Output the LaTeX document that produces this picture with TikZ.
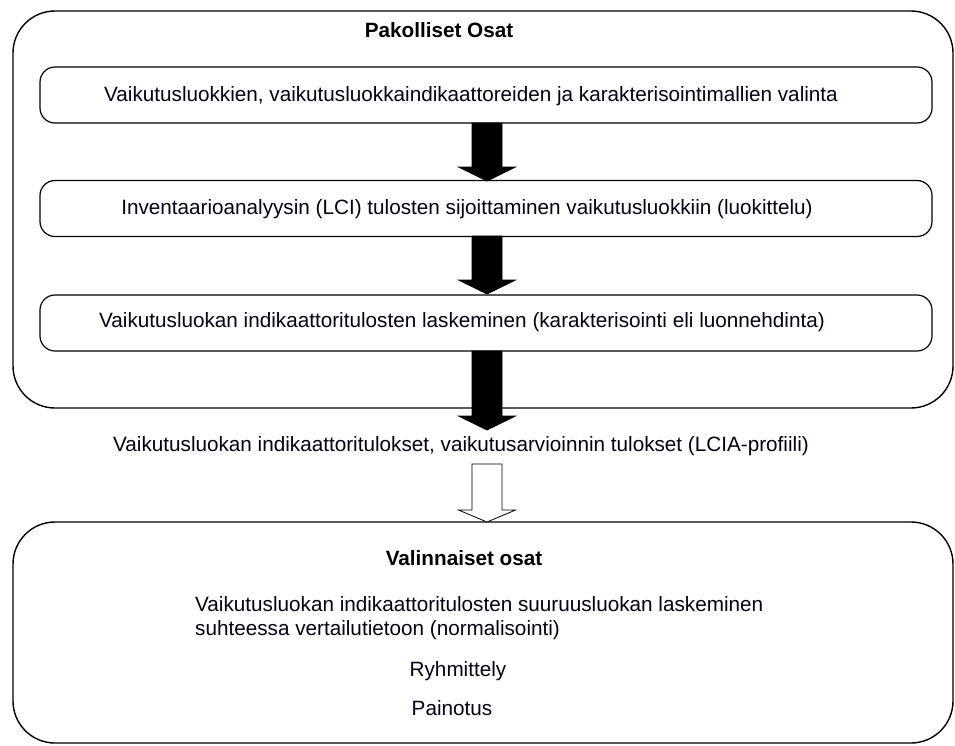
\documentclass[tikz,border=0pt]{standalone}
\usepackage{fontspec}
\setmainfont{Liberation Sans}
\usetikzlibrary{calc}
\begin{document}
\begin{tikzpicture}[x=1pt,y=-1pt,
  outerbox/.style={draw, line width=1.4pt, rounded corners=42pt},
  innerbox/.style={draw, line width=1.2pt, rounded corners=15pt, minimum width=892pt, minimum height=56pt, inner sep=0pt},
  lbl/.style={font=\fontsize{20.7}{24}\selectfont, inner sep=0pt, text=black!90!blue},
  ttl/.style={font=\bfseries\fontsize{20.7}{24}\selectfont, inner sep=0pt},
  blockarrow/.style={draw, line width=0.8pt, fill=black},
  hollowarrow/.style={draw, line width=0.8pt, fill=white}]
\useasboundingbox (0,0) rectangle (955,745);
% outer boxes
\draw[outerbox] (13,11) rectangle (953,408);
\draw[outerbox] (13,522) rectangle (953,743);
% inner boxes
\node[innerbox] (b1) at (486,95) {};
\node[innerbox] (b2) at (486,208.5) {};
\node[innerbox] (b3) at (486,323) {};
% texts
\node[ttl] (t1) at (439,30) {Pakolliset Osat};
\node[lbl] (l1) at (471,96) {Vaikutusluokkien, vaikutusluokkaindikaattoreiden ja karakterisointimallien valinta};
\node[lbl] (l2) at (467,209) {Inventaarioanalyysin (LCI) tulosten sijoittaminen vaikutusluokkiin (luokittelu)};
\node[lbl] (l3) at (462,322) {Vaikutusluokan indikaattoritulosten laskeminen (karakterisointi eli luonnehdinta)};
\node[lbl] (res) at (461,446) {Vaikutusluokan indikaattoritulokset, vaikutusarvioinnin tulokset (LCIA-profiili)};
\node[ttl] (t2) at (464,558) {Valinnaiset osat};
\node[lbl, anchor=west, align=left] (n1) at (195,618) {Vaikutusluokan indikaattoritulosten suuruusluokan laskeminen\\suhteessa vertailutietoon (normalisointi)};
\node[lbl] (n2) at (458,671) {Ryhmittely};
\node[lbl] (n3) at (452,708) {Painotus};
% black arrows
\coordinate (a1s) at (487,123);
\coordinate (a1t) at (487,181);
\draw[blockarrow] ($(a1s)+(-15,0)$) -- ($(a1s)+(15,0)$) -- ($(a1t)+(15,-14)$) -- ($(a1t)+(28.5,-14)$) -- (a1t) -- ($(a1t)+(-28.5,-14)$) -- ($(a1t)+(-15,-14)$) -- cycle;
\coordinate (a2s) at (487,236);
\coordinate (a2t) at (487,294);
\draw[blockarrow] ($(a2s)+(-15,0)$) -- ($(a2s)+(15,0)$) -- ($(a2t)+(15,-14)$) -- ($(a2t)+(28.5,-14)$) -- (a2t) -- ($(a2t)+(-28.5,-14)$) -- ($(a2t)+(-15,-14)$) -- cycle;
\coordinate (a3s) at (487,351);
\coordinate (a3t) at (487,430);
\draw[blockarrow] ($(a3s)+(-15,0)$) -- ($(a3s)+(15,0)$) -- ($(a3t)+(15,-14)$) -- ($(a3t)+(28.5,-14)$) -- (a3t) -- ($(a3t)+(-28.5,-14)$) -- ($(a3t)+(-15,-14)$) -- cycle;
% hollow arrow
\coordinate (a4s) at (487,464);
\coordinate (a4t) at (487,522);
\draw[hollowarrow] ($(a4s)+(-15,0)$) -- ($(a4s)+(15,0)$) -- ($(a4t)+(15,-12)$) -- ($(a4t)+(28.5,-12)$) -- (a4t) -- ($(a4t)+(-28.5,-12)$) -- ($(a4t)+(-15,-12)$) -- cycle;
\end{tikzpicture}
\end{document}
